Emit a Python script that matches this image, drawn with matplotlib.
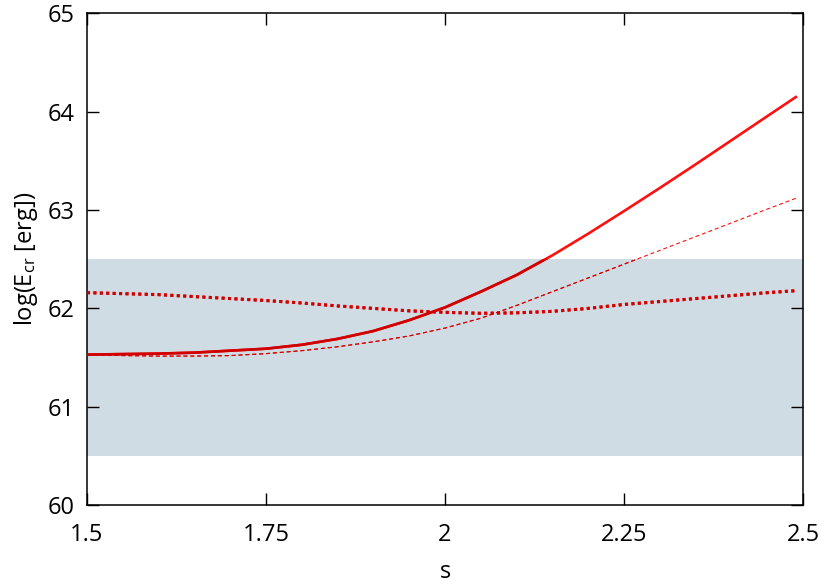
import numpy as np
import matplotlib
matplotlib.use("Agg")
import matplotlib.pyplot as plt
from matplotlib.patches import Rectangle

plt.rcParams['font.family'] = ['Open Sans', 'DejaVu Sans']
plt.rcParams['mathtext.default'] = 'regular'

# band of allowed energies
band_lo, band_hi = 60.5, 62.5

# solid curve
s_solid = [1.50, 1.55, 1.60, 1.65, 1.70, 1.75, 1.80, 1.85, 1.90, 1.95, 2.00, 2.05, 2.10,
           2.15, 2.20, 2.25, 2.30, 2.35, 2.40, 2.45, 2.49]
e_solid = [61.53, 61.535, 61.54, 61.55, 61.57, 61.59, 61.63, 61.69, 61.77, 61.88, 62.01, 62.17, 62.34,
           62.54, 62.76, 62.99, 63.225, 63.465, 63.71, 63.955, 64.15]

# thin dashed curve
s_dash = [1.50, 1.55, 1.60, 1.65, 1.70, 1.75, 1.80, 1.85, 1.90, 1.95, 2.00, 2.05, 2.10,
          2.15, 2.20, 2.25, 2.30, 2.35, 2.40, 2.45, 2.49]
e_dash = [61.53, 61.52, 61.515, 61.515, 61.52, 61.54, 61.57, 61.61, 61.66, 61.72, 61.80, 61.90, 62.03,
          62.17, 62.31, 62.45, 62.59, 62.73, 62.87, 63.01, 63.12]

# thick dotted curve
s_dot = [1.50, 1.55, 1.60, 1.65, 1.70, 1.75, 1.80, 1.85, 1.90, 1.95, 2.00, 2.05, 2.10,
         2.15, 2.20, 2.25, 2.30, 2.35, 2.40, 2.45, 2.49]
e_dot = [62.16, 62.15, 62.14, 62.12, 62.10, 62.08, 62.055, 62.025, 62.00, 61.975, 61.96, 61.95, 61.955,
         61.97, 62.00, 62.04, 62.07, 62.10, 62.13, 62.16, 62.18]

fig = plt.figure(figsize=(8.3, 5.86), dpi=100)
ax = fig.add_axes([0.1048, 0.1382, 0.8627, 0.8388])

ax.axhspan(band_lo, band_hi, color='#cfdce3', lw=0, zorder=0)

# lines look darker where they cross the band, so draw each twice
inside = Rectangle((1.5, band_lo), 1.0, band_hi - band_lo, transform=ax.transData)
specs = [
    (s_solid, e_solid, dict(lw=1.9, ls='-')),
    (s_dash, e_dash, dict(lw=0.8, ls=(0, (3.6, 2.6)))),
    (s_dot, e_dot, dict(lw=2.2, ls=(0, (1.0, 1.1)), dash_capstyle='butt')),
]
for s, e, kw in specs:
    ax.plot(s, e, color='#ff1010', zorder=2, **kw)
    ln, = ax.plot(s, e, color='#cf0000', zorder=3, **kw)
    ln.set_clip_path(inside)

ax.set_xlim(1.5, 2.5)
ax.set_ylim(60, 65)
ax.set_xticks([1.5, 1.75, 2, 2.25, 2.5])
ax.set_xticklabels(['1.5', '1.75', '2', '2.25', '2.5'])
ax.set_yticks([60, 61, 62, 63, 64, 65])

for sp in ax.spines.values():
    sp.set_linewidth(1.1)
ax.tick_params(direction='in', length=8.5, width=1.0, top=True, right=True,
               labelsize=17)
ax.tick_params(axis='x', pad=13)
ax.tick_params(axis='y', pad=9)
ax.set_xlabel('s', fontsize=17, labelpad=9)
ax.set_ylabel('log(E$_{cr}$ [erg])', fontsize=17, labelpad=5)

fig.savefig('out.png', dpi=100)
